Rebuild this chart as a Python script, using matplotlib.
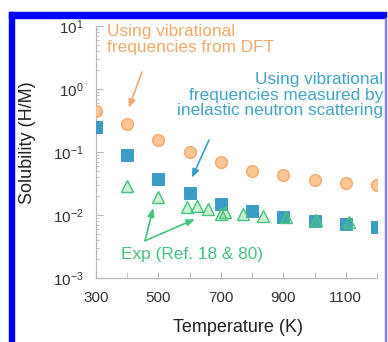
import numpy as np
import matplotlib
matplotlib.use("Agg")
from matplotlib import pyplot as plt
from matplotlib.patches import Rectangle
from matplotlib.ticker import LogLocator, NullFormatter

plt.rcParams['font.family'] = ['Liberation Sans', 'DejaVu Sans']
plt.rcParams['mathtext.default'] = 'regular'

# data
temp = [300, 400, 500, 600, 700, 800, 900, 1000, 1100, 1200]
sol_dft = [0.45, 0.28, 0.155, 0.10, 0.069, 0.050, 0.043, 0.036, 0.032, 0.030]
sol_ins = [0.25, 0.089, 0.037, 0.022, 0.015, 0.0115, 0.0092, 0.0080, 0.0072, 0.0065]

temp_exp = [400, 500, 590, 625, 660, 700, 712, 770, 835, 910, 1005, 1110]
sol_exp = [0.029, 0.019, 0.0135, 0.014, 0.0125, 0.0105, 0.011, 0.0105, 0.0095, 0.0092, 0.0082, 0.0077]

orange = "#F2AA6E"
blue = "#3A9DC6"
green = "#45C27F"

W, H = 388, 342
fig = plt.figure(figsize=(W / 100, H / 100), dpi=100)

# pixel helpers
def fx(px):
    return px / W

def fy(py):
    return 1 - py / H

ax = fig.add_axes([fx(96), fy(278), (377 - 96) / W, (278 - 26) / H])
ax.set_yscale("log")
ax.set_xlim(300, 1200)
ax.set_ylim(1e-3, 1e1)

ax.plot(temp, sol_dft, "o", ms=8.5, mfc="#F9C595", mec=orange, mew=1.0, zorder=3)
ax.plot(temp, sol_ins, "s", ms=8.0, mfc=blue, mec="#3590BC", mew=0.6, zorder=3)
ax.plot(temp_exp, sol_exp, "^", ms=8.5, mfc=(0.35, 0.8, 0.45, 0.3), mec=green, mew=1.0, zorder=4)

for s in ["top", "right"]:
    ax.spines[s].set_visible(False)
for s in ["left", "bottom"]:
    ax.spines[s].set_color("#b8b8b8")
    ax.spines[s].set_linewidth(0.9)

ax.set_xticks([300, 500, 700, 900, 1100])
ax.set_xticks([400, 600, 800, 1000, 1200], minor=True)
ax.yaxis.set_major_locator(LogLocator(base=10, numticks=10))
ax.yaxis.set_minor_locator(LogLocator(base=10, subs=np.arange(2, 10), numticks=20))
ax.yaxis.set_minor_formatter(NullFormatter())
ax.tick_params(axis="both", which="both", direction="in", color="#b8b8b8",
               labelsize=11, labelcolor="#333333")
ax.tick_params(axis="x", which="both", length=4, pad=9)
ax.tick_params(axis="y", which="major", length=5, pad=9)
ax.tick_params(axis="y", which="minor", length=2.5)

fig.text(fx(28), fy(143), "Solubility (H/M)", rotation=90, ha="center", va="center",
         fontsize=13, color="#222222")
fig.text(fx(238), fy(327), "Temperature (K)", ha="center", va="center",
         fontsize=13, color="#222222")

# annotations
def axf(px, py):
    return ((px - 96) / (377 - 96), (278 - py) / (278 - 26))

ax.text(*axf(107, 24), "Using vibrational\nfrequencies from DFT", transform=ax.transAxes,
        ha="left", va="top", fontsize=12.4, color=orange, linespacing=1.1)
ax.text(*axf(383, 72), "Using vibrational\nfrequencies measured by\ninelastic neutron scattering",
        transform=ax.transAxes, ha="right", va="top", fontsize=12.4, color="#45A4C6",
        linespacing=1.05)
ax.text(*axf(121, 254), "Exp (Ref. 18 & 80)", transform=ax.transAxes,
        ha="left", va="center", fontsize=12.4, color=green)

arrow_kw = dict(arrowstyle="-|>,head_length=0.5,head_width=0.2", lw=1.2, shrinkA=0, shrinkB=0)
ax.annotate("", xy=(405, 0.5), xytext=(447, 1.86),
            arrowprops=dict(color=orange, **arrow_kw))
ax.annotate("", xy=(607, 0.039), xytext=(662, 0.155),
            arrowprops=dict(color=blue, **arrow_kw))
ax.annotate("", xy=(483, 0.0129), xytext=(457, 0.0039),
            arrowprops=dict(color=green, **arrow_kw))
ax.annotate("", xy=(617, 0.0086), xytext=(457, 0.0039),
            arrowprops=dict(color=green, **arrow_kw))

# blue frame of the screenshot
fig.patches.append(Rectangle((fx(9), 0), fx(14) - fx(9), fy(12), transform=fig.transFigure,
                             color="#0000ff", zorder=10))
fig.patches.append(Rectangle((fx(9), fy(18)), fx(386) - fx(9), fy(12) - fy(18),
                             transform=fig.transFigure, color="#0000ff", zorder=10))
fig.patches.append(Rectangle((fx(384.5), 0), fx(1.3), fy(18), transform=fig.transFigure,
                             color="#7f7fff", zorder=10))

fig.savefig("out.png", dpi=100)
